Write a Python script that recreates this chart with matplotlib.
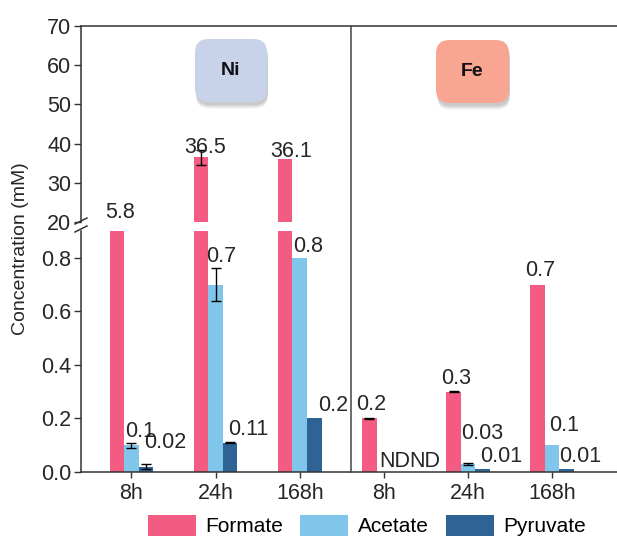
import numpy as np
import matplotlib
matplotlib.use("Agg")
import matplotlib.pyplot as plt
from matplotlib.patches import FancyBboxPatch, Patch

plt.rcParams['font.family'] = ['Liberation Sans', 'DejaVu Sans']

# ---------------- data ----------------
groups = ["Ni", "Fe"]
time_labels = ["8h", "24h", "168h", "8h", "24h", "168h"]
series = ["Formate", "Acetate", "Pyruvate"]

formate = [5.8, 36.5, 36.1, 0.2, 0.3, 0.7]
acetate = [0.1, 0.7, 0.8, np.nan, 0.03, 0.1]
pyruvate = [0.02, 0.11, 0.2, np.nan, 0.01, 0.01]

formate_err = [np.nan, 1.9, np.nan, 0.002, 0.003, np.nan]
acetate_err = [0.01, 0.06, np.nan, np.nan, 0.005, np.nan]
pyruvate_err = [0.01, 0.002, np.nan, np.nan, np.nan, np.nan]

colors = ["#F45B82", "#80C6EA", "#2F6396"]
box_colors = ["#C8D3EA", "#F8A592"]

# label layout (pixel offsets above bar top / horizontal shift)
lab_dy = [[None, 4, 2, 8, 8, 9],
          [8, 23, 6, 5, 25, 14],
          [19, 8, 7, 5, 7, 7]]
lab_dx = [[3, 4, 6, 2, 3, 3],
          [1, -2, 1, 3, 0, 4],
          [5, 5, 11, 18, 5, 0]]

values = [formate, acetate, pyruvate]
errors = [formate_err, acetate_err, pyruvate_err]

W, H = 617, 537
fig = plt.figure(figsize=(W / 100, H / 100), dpi=100)

def fx(px):
    return px / W

def fy(py):
    return 1 - py / H

L, R = 81, 617
ax_top = fig.add_axes([fx(L), fy(222), fx(R) - fx(L), fy(26) - fy(222)])
ax_bot = fig.add_axes([fx(L), fy(472), fx(R) - fx(L), fy(231) - fy(472)])

x = np.arange(len(time_labels))
bw = 0.173
xlim = (-0.6, 5.77)
FS = 15.5
spine_c = "#333333"
txt_c = "#262626"

for k, (vals, errs) in enumerate(zip(values, errors)):
    pos = x + (k - 1) * bw
    v = np.nan_to_num(np.array(vals, dtype=float))
    for ax in (ax_top, ax_bot):
        ax.bar(pos, v, width=bw, color=colors[k], edgecolor='none', zorder=2)
    e = np.array(errs, dtype=float)
    m = ~np.isnan(e)
    for ax in (ax_top, ax_bot):
        ax.errorbar(pos[m], v[m], yerr=e[m], fmt='none', ecolor='black',
                    elinewidth=1, capsize=3.5, capthick=1, zorder=3)

# axes styling
ax_top.set_ylim(20, 70)
ax_bot.set_ylim(0, 0.9)
for ax in (ax_top, ax_bot):
    ax.set_xlim(*xlim)
    ax.spines['right'].set_visible(False)
    for s in ax.spines.values():
        s.set_color(spine_c)
        s.set_linewidth(1.1)
    ax.tick_params(axis='y', direction='out', length=5, width=1, labelsize=FS,
                   colors=spine_c, labelcolor=txt_c, pad=2)

ax_top.spines['bottom'].set_visible(False)
ax_top.set_xticks([])
ax_top.set_yticks([20, 30, 40, 50, 60, 70])
ax_bot.spines['top'].set_visible(False)
ax_bot.set_yticks([0.0, 0.2, 0.4, 0.6, 0.8])
ax_bot.set_yticklabels([f"{t:.1f}" for t in [0.0, 0.2, 0.4, 0.6, 0.8]])
ax_bot.set_xticks(x)
ax_bot.set_xticklabels(time_labels)
ax_bot.tick_params(axis='x', direction='out', length=4, width=1, labelsize=FS,
                   colors=spine_c, labelcolor=txt_c, pad=4)

# group divider (continuous through the break)
fig.add_artist(plt.Line2D([fx(351), fx(351)], [fy(472), fy(26)],
                          color='#444444', lw=1.1))

fig.text(fx(21), fy(249), "Concentration (mM)", rotation=90, ha='center',
         va='center', fontsize=14, color=txt_c)

# break marks
for yy in (221, 229):
    fig.add_artist(plt.Line2D([fx(L - 6), fx(L + 6)], [fy(yy + 3), fy(yy - 3)],
                              color=spine_c, lw=1.1))

# value labels
def fmt(vv):
    if np.isnan(vv):
        return "ND"
    return f"{vv:g}"

for k, (vals, errs) in enumerate(zip(values, errors)):
    for i, vv in enumerate(vals):
        txt = fmt(vv)
        cx = x[i] + (k - 1) * bw
        if k == 0:
            xr, ha = cx, 'center'
        else:
            xr, ha = cx - bw / 2, 'left'
        if k == 0 and i == 0:
            ax_bot.annotate(txt, (xr, 0.9), xytext=(lab_dx[k][i], 13),
                            textcoords='offset pixels', ha=ha, va='baseline',
                            fontsize=FS, color=txt_c, annotation_clip=False)
        elif k == 0 and vv > 20:
            ax_top.annotate(txt, (xr, vv), xytext=(lab_dx[k][i], lab_dy[k][i]),
                            textcoords='offset pixels', ha=ha, va='baseline',
                            fontsize=FS, color=txt_c, annotation_clip=False)
        else:
            yv = 0 if np.isnan(vv) else vv
            ax_bot.annotate(txt, (xr, yv), xytext=(lab_dx[k][i], lab_dy[k][i]),
                            textcoords='offset pixels', ha=ha, va='baseline',
                            fontsize=FS, color=txt_c, annotation_clip=False)

# group boxes (Ni / Fe) with soft shadow
boxes = [(195, 39, 267, 102), (436, 40, 509, 103)]
for (x0, y0, x1, y1), name, c in zip(boxes, groups, box_colors):
    w, h = fx(x1) - fx(x0), fy(y0) - fy(y1)
    for j, a in enumerate([0.04, 0.05, 0.06, 0.07, 0.08]):
        off = 7 - j
        sh = FancyBboxPatch((fx(x0 + 1), fy(y1 + off)), w, h,
                            boxstyle="round,pad=0,rounding_size=0.022",
                            transform=fig.transFigure, facecolor='#404040',
                            edgecolor='none', alpha=a, mutation_aspect=W / H)
        fig.add_artist(sh)
    bx = FancyBboxPatch((fx(x0), fy(y1)), w, h,
                        boxstyle="round,pad=0,rounding_size=0.022",
                        transform=fig.transFigure, facecolor=c,
                        edgecolor='none', mutation_aspect=W / H)
    fig.add_artist(bx)
    fig.text(fx((x0 + x1) / 2), fy((y0 + y1) / 2), name, ha='center',
             va='center', fontsize=14, fontweight='bold', color='#111111')

# legend
handles = [Patch(facecolor=c, edgecolor='none') for c in colors]
fig.legend(handles, series, loc='upper center', ncol=3,
           bbox_to_anchor=(fx(367), fy(515)), frameon=False, fontsize=15,
           handlelength=2.3, handleheight=1.15, handletextpad=0.45,
           columnspacing=0.85, borderpad=0, borderaxespad=0)

fig.savefig("out.png", dpi=100)
